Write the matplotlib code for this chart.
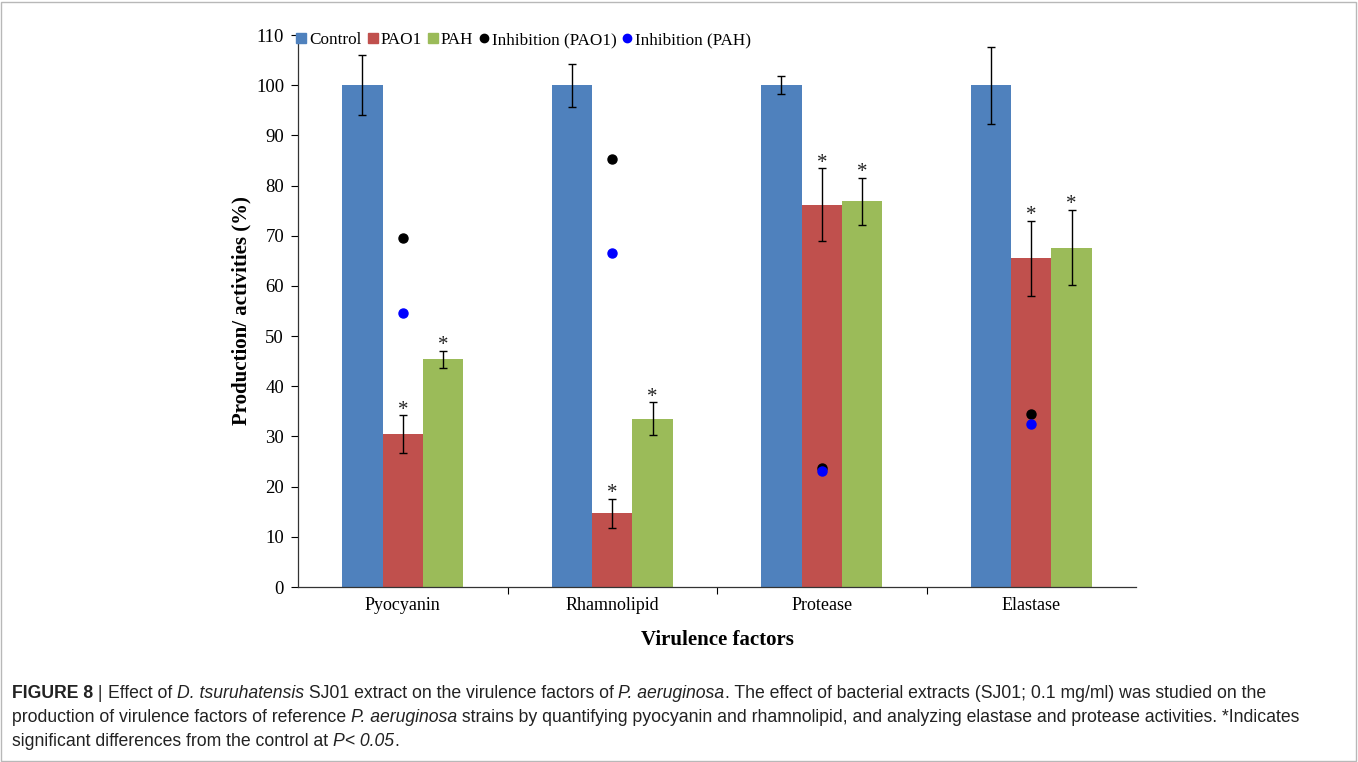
import matplotlib
matplotlib.use("Agg")
import matplotlib.pyplot as plt
import numpy as np
from matplotlib import font_manager
from matplotlib.lines import Line2D
from matplotlib.patches import Rectangle
from matplotlib.transforms import IdentityTransform

# ---- data ----
categories = ["Pyocyanin", "Rhamnolipid", "Protease", "Elastase"]
control = [100, 100, 100, 100]
control_err = [6.0, 4.3, 1.8, 7.7]
pao1 = [30.5, 14.7, 76.2, 65.5]
pao1_err = [3.7, 2.9, 7.2, 7.5]
pah = [45.4, 33.5, 76.9, 67.6]
pah_err = [1.7, 3.3, 4.7, 7.5]
inhibition_pao1 = [69.5, 85.3, 23.8, 34.5]
inhibition_pah = [54.6, 66.5, 23.1, 32.4]
y_ticks = list(range(0, 111, 10))

C_CONTROL = "#4F81BD"
C_PAO1 = "#C0504D"
C_PAH = "#9BBB59"

serif = "Liberation Serif"
installed = {f.name for f in font_manager.fontManager.ttflist}
cap_font = "Liberation Sans Narrow" if "Liberation Sans Narrow" in installed else "Liberation Sans"

W, H, DPI = 1358, 762, 100
fig = plt.figure(figsize=(W / DPI, H / DPI), dpi=DPI)
fig.patch.set_facecolor("white")

ax = fig.add_axes([298 / W, 1 - 587 / H, (1136 - 298) / W, (587 - 35) / H])

x = np.arange(len(categories))
bw = 0.193
err_kw = dict(ecolor="black", elinewidth=1.0, capsize=3, capthick=1.0)
ax.bar(x - bw, control, bw, color=C_CONTROL, yerr=control_err, error_kw=err_kw, zorder=2)
ax.bar(x, pao1, bw, color=C_PAO1, yerr=pao1_err, error_kw=err_kw, zorder=2)
ax.bar(x + bw, pah, bw, color=C_PAH, yerr=pah_err, error_kw=err_kw, zorder=2)

# significance marks above the treated bars
for xs, vals, errs in ((x, pao1, pao1_err), (x + bw, pah, pah_err)):
    for xi, v, e in zip(xs, vals, errs):
        ax.annotate("*", xy=(xi, v + e), xytext=(0, 0.5), textcoords="offset points",
                    ha="center", va="baseline", family=serif, fontsize=15,
                    color="#222222", zorder=4)

ax.plot(x, inhibition_pao1, "o", color="black", markersize=6.5, zorder=5)
ax.plot(x, inhibition_pah, "o", color="#0000FF", markersize=6.5, zorder=5)

ax.set_xlim(-0.5, len(categories) - 0.5)
ax.set_ylim(0, 110)
ax.set_yticks(y_ticks)
ax.set_yticklabels([str(t) for t in y_ticks], family=serif, fontsize=13.5)
ax.set_xticks(x)
ax.set_xticklabels(categories, family=serif, fontsize=13)
ax.tick_params(axis="x", length=0, pad=7)
ax.set_xticks(np.arange(-0.5, len(categories) + 0.5, 1)[1:-1], minor=True)
ax.tick_params(axis="x", which="minor", length=5, width=0.8, direction="out")
ax.tick_params(axis="y", length=5, width=0.8, direction="out", pad=5)
for s in ("top", "right"):
    ax.spines[s].set_visible(False)
for s in ("left", "bottom"):
    ax.spines[s].set_linewidth(0.9)
    ax.spines[s].set_color("#333333")

ax.set_xlabel("Virulence factors", family=serif, fontsize=15, fontweight="bold", labelpad=12)
ax.set_ylabel("Production/ activities (%)", family=serif, fontsize=15, fontweight="bold", labelpad=3)

handles = [
    Line2D([], [], marker="s", linestyle="none", color=C_CONTROL, markersize=7),
    Line2D([], [], marker="s", linestyle="none", color=C_PAO1, markersize=7),
    Line2D([], [], marker="s", linestyle="none", color=C_PAH, markersize=7),
    Line2D([], [], marker="o", linestyle="none", color="black", markersize=6),
    Line2D([], [], marker="o", linestyle="none", color="#0000FF", markersize=6),
]
labels = ["Control", "PAO1", "PAH", "Inhibition (PAO1)", "Inhibition (PAH)"]
ax.legend(handles, labels, loc="center left", bbox_to_anchor=(-0.002, 0.991), ncol=5,
          frameon=False, handlelength=0.6, handletextpad=0.15, columnspacing=0.35,
          borderaxespad=0, borderpad=0, prop={"family": serif, "size": 12.3})

# ---- caption ----
fig.add_artist(Rectangle((1, 1), W - 3, H - 3, transform=IdentityTransform(),
                         fill=False, edgecolor="#b8b8b8", linewidth=1.0))

renderer = fig.canvas.get_renderer()
cap_size = 12.7


def run_width(txt, weight, style):
    probe = fig.text(0, 0, "|" + txt + "|", fontsize=cap_size, family=cap_font,
                     fontweight=weight, fontstyle=style, transform=IdentityTransform())
    bar = fig.text(0, 0, "||", fontsize=cap_size, family=cap_font,
                   fontweight=weight, fontstyle=style, transform=IdentityTransform())
    w = probe.get_window_extent(renderer).width - bar.get_window_extent(renderer).width
    probe.remove()
    bar.remove()
    return w


def draw_line(x0, y0, runs):
    xc = x0
    for txt, weight, style in runs:
        fig.text(xc, y0, txt, fontsize=cap_size, family=cap_font, fontweight=weight,
                 fontstyle=style, transform=IdentityTransform(), va="baseline",
                 ha="left", color="#222222")
        xc += run_width(txt, weight, style)


N, B, I = "normal", "bold", "italic"
line1 = [("FIGURE 8", B, "normal"), (" | ", N, "normal"), ("Effect of ", N, "normal"),
         ("D. tsuruhatensis", N, I), (" SJ01 extract on the virulence factors of ", N, "normal"),
         ("P. aeruginosa", N, I),
         (". The effect of bacterial extracts (SJ01; 0.1 mg/ml) was studied on the", N, "normal")]
line2 = [("production of virulence factors of reference ", N, "normal"), ("P. aeruginosa", N, I),
         (" strains by quantifying pyocyanin and rhamnolipid, and analyzing elastase and protease activities. *Indicates",
          N, "normal")]
line3 = [("significant differences from the control at ", N, "normal"), ("P< 0.05", N, I),
         (".", N, "normal")]
draw_line(12, H - 698, line1)
draw_line(12, H - 722, line2)
draw_line(12, H - 746, line3)

fig.savefig("out.png", dpi=DPI, facecolor="white")
